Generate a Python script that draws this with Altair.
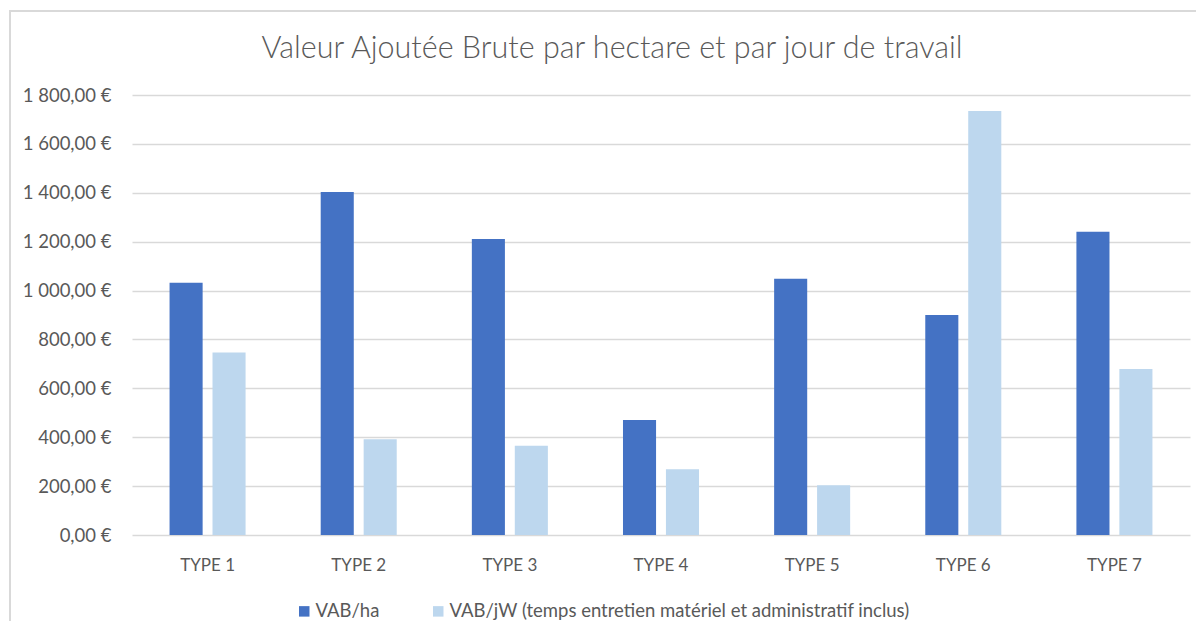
import altair as alt
import pandas as pd

types = ["TYPE 1", "TYPE 2", "TYPE 3", "TYPE 4", "TYPE 5", "TYPE 6", "TYPE 7"]
vab_ha = [1032, 1403, 1211, 470, 1048, 900, 1241]
vab_jw = [747, 392, 365, 269, 204, 1735, 679]
series = ["VAB/ha", "VAB/jW (temps entretien matériel et administratif inclus)"]
colors = ["#4472C4", "#BDD7EE"]
y_ticks = [0, 200, 400, 600, 800, 1000, 1200, 1400, 1600, 1800]
chart_title = "Valeur Ajoutée Brute par hectare et par jour de travail"

rows = []
for t, a, b in zip(types, vab_ha, vab_jw):
    rows.append({"type": t, "serie": series[0], "value": a})
    rows.append({"type": t, "serie": series[1], "value": b})
df = pd.DataFrame(rows)

W, H = 1058, 440
FONT = "Lato"
TXT = "#595959"
GRID = "#d9d9d9"

label_expr = "replace(replace(format(datum.value, ',.2f'), ',', ' '), '.', ',') + ' €'"

bars = alt.Chart(df).mark_bar().encode(
    x=alt.X(
        "type:N", sort=types, title=None,
        scale=alt.Scale(paddingInner=0.497, paddingOuter=0.2485),
        axis=alt.Axis(labelAngle=0, domain=False, ticks=False, labelPadding=22,
                      labelFontSize=17, labelColor=TXT, labelFont=FONT, grid=False),
    ),
    xOffset=alt.XOffset("serie:N", sort=series,
                        scale=alt.Scale(paddingInner=0.23, paddingOuter=0)),
    y=alt.Y(
        "value:Q", title=None,
        scale=alt.Scale(domain=[0, 1800], nice=False),
        axis=alt.Axis(values=y_ticks, labelExpr=label_expr, domain=False, ticks=False,
                      labelPadding=21, labelFontSize=18.5, labelColor=TXT, labelFont=FONT,
                      grid=True, gridColor=GRID, gridWidth=1.5),
    ),
    color=alt.Color(
        "serie:N",
        scale=alt.Scale(domain=series, range=colors),
        legend=alt.Legend(
            title=None, orient="none", direction="horizontal",
            legendX=163, legendY=507, padding=0,
            symbolType="square", symbolSize=110, symbolStrokeWidth=0,
            labelFontSize=18.5, labelColor=TXT, labelFont=FONT,
            columnPadding=49, labelLimit=1000, labelOffset=2,
        ),
    ),
)

border_data = alt.Data(values=[{"k": 1}])
left_edge = alt.Chart(border_data).mark_rule(color=GRID, strokeWidth=2).encode(
    x=alt.value(-122), y=alt.value(-85), y2=alt.value(560)
)
top_edge = alt.Chart(border_data).mark_rule(color=GRID, strokeWidth=2).encode(
    x=alt.value(-123), x2=alt.value(1100), y=alt.value(-84)
)

chart = alt.layer(bars, left_edge, top_edge).properties(
    width=W, height=H,
    padding={"left": 124, "top": 87, "right": 6, "bottom": 86},
    autosize=alt.AutoSizeParams(type="none"),
    title=alt.TitleParams(
        chart_title, anchor="middle", dx=-49, offset=-55,
        fontSize=30.5, font=FONT, fontWeight=300, color=TXT,
    ),
).configure_view(stroke=None)

chart.save("out.html", embed_options={"renderer": "svg", "actions": False})
